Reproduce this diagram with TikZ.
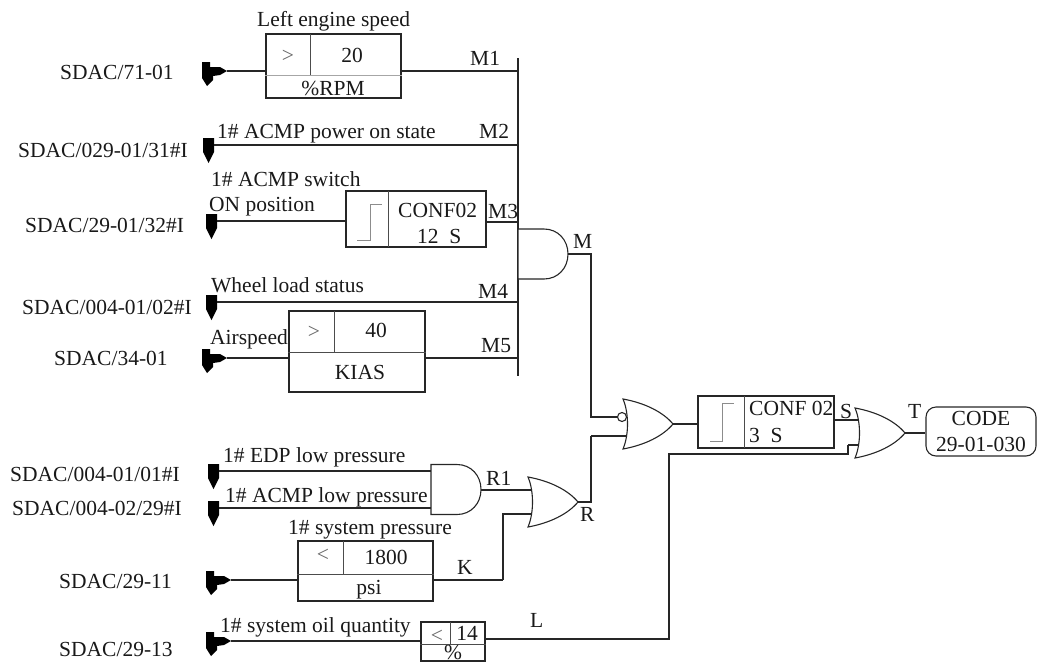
\documentclass[tikz,border=0pt]{standalone}
\usepackage{fontspec}
\setmainfont{Liberation Serif}
\usetikzlibrary{fit}
\tikzset{
  x=1pt,y=-1pt,
  wire/.style={draw=black!85,line width=1.1pt},
  boxn/.style={draw=black!85,line width=1.1pt,inner sep=0pt,rectangle},
  div/.style={draw=black!70,line width=0.9pt},
  stepsym/.style={draw=black!45,line width=1pt},
  lab/.style={anchor=base west,inner sep=0pt,font=\fontsize{21.5}{21.5}\selectfont,text=black!90},
  cen/.style={anchor=base,inner sep=0pt,font=\fontsize{21.5}{21.5}\selectfont,text=black!90},
  gatesty/.style={draw=black!85,line width=1.1pt,fill=white},
  senA/.pic={
    \fill[black] (0,0)--(8,0)--(8,5)--(18,5)--(25,9)--(18,13)--(11,14)--(11,18)--(5,24)--(0,16)--cycle;
    \coordinate (-tip) at (25,9);},
  senB/.pic={
    \fill[black] (0,0)--(11,0)--(11,14)--(5.5,25)--(0,14)--cycle;
    \coordinate (-tip) at (11,7);},
  orgate/.pic={
    \path[gatesty] (0,0) .. controls (22,4) and (40,13) .. (50,25) .. controls (40,37) and (22,46) .. (0,50) .. controls (6,36) and (6,14) .. (0,0) -- cycle;
    \coordinate (-tip) at (50,25);},
  andgate/.pic={
    \path[gatesty] (0,0) -- (26,0) .. controls (40,0) and (50,11) .. (50,25) .. controls (50,39) and (40,50) .. (26,50) -- (0,50) -- cycle;
    \coordinate (-west) at (0,25);
    \coordinate (-tip) at (50,25);},
}
\begin{document}
\begin{tikzpicture}
\useasboundingbox (0,0) rectangle (1044,662);
% bus
\coordinate (busT) at (518,58);
\coordinate (busB) at (518,376);
\draw[wire] (busT)--(busB);
% sensors
\pic (s1) at (202,62) {senA};
\pic (s2) at (203,138) {senB};
\pic (s3) at (206,214) {senB};
\pic (s4) at (206,295) {senB};
\pic (s5) at (202,349) {senA};
\pic (s6) at (208,464) {senB};
\pic (s7) at (208,501) {senB};
\pic (s8) at (206,571) {senA};
\pic (s9) at (206,632) {senA};
% boxes
\node[boxn,fit={(266,34)(401,98)}] (b1) {};
\draw[div,draw=black!35] (b1.west|-0,75)--(b1.east|-0,75);
\draw[div] (310,34)--(310,75);
\node[boxn,fit={(346,191)(486,247)}] (b3) {};
\draw[div] (388,191)--(388,247);
\draw[stepsym] (357,240)--(370,240)--(370,204)--(382,204);
\node[boxn,fit={(289,311)(425,392)}] (b5) {};
\draw[div] (b5.west|-0,352)--(b5.east|-0,352);
\draw[div] (334,311)--(334,352);
\node[boxn,fit={(298,541)(433,601)}] (b8) {};
\draw[div] (b8.west|-0,574)--(b8.east|-0,574);
\draw[div] (343,541)--(343,574);
\node[boxn,fit={(421,622)(485,661)}] (b9) {};
\draw[div] (b9.west|-0,644)--(b9.east|-0,644);
\draw[div] (450,622)--(450,644);
\node[boxn,fit={(698,396)(834,448)}] (cf) {};
\draw[div] (744,396)--(744,448);
\draw[stepsym] (710,441)--(722,441)--(722,403)--(734,403);
\node[boxn,rounded corners=10pt,fit={(926,407)(1036,456)}] (code) {};
% junction coordinates
\coordinate (jm) at (591,254);
\coordinate (jr) at (591,502);
\coordinate (jn2) at (591,436);
\coordinate (jk) at (503,580);
\coordinate (jk2) at (503,514);
\coordinate (jl) at (669,639);
\coordinate (jl2) at (669,454);
\coordinate (jl3) at (848,454);
\coordinate (jl4) at (848,445);
\coordinate (bub) at (622,417);
% connectors into boxes and the bus
\draw[wire] (s1-tip)--(s1-tip-|b1.west);
\draw[wire] (s1-tip-|b1.east)--(s1-tip-|busT);
\draw[wire] (s2-tip)--(s2-tip-|busT);
\draw[wire] (s3-tip)--(s3-tip-|b3.west);
\draw[wire] (b3.east|-0,222)--(busT|-0,222);
\draw[wire] (s4-tip)--(s4-tip-|busT);
\draw[wire] (s5-tip)--(s5-tip-|b5.west);
\draw[wire] (s5-tip-|b5.east)--(s5-tip-|busT);
\draw[wire] (s8-tip)--(s8-tip-|b8.west);
\draw[wire] (s9-tip)--(s9-tip-|b9.west);
\draw[wire] (s6-tip)--(s6-tip-|450,0);
\draw[wire] (s7-tip)--(s7-tip-|450,0);
% connectors into gates (drawn first, gates cover their ends)
\draw[wire] (jn2)--(640,436);
\draw[wire] (jk)--(jk2)--(540,514);
\draw[wire] (470,490)--(540,490);
\draw[wire] (jl4)--(870,445);
\draw[wire] (cf.east|-0,420)--(870,420);
% gates
\pic (gm) at (518,229) {andgate};
\pic (gr1) at (431,464.5) {andgate};
\pic (gr) at (528,477) {orgate};
\pic (gn) at (623,399) {orgate};
\pic (gt) at (855,408) {orgate};
% connectors out of gates
\draw[wire] (gm-tip)--(jm)--(jm|-bub)--(617.5,417);
\draw[wire,fill=white] (bub) circle[radius=4.5];
\draw[wire] (gr-tip)--(jr)--(jn2);
\draw[wire] (s8-tip-|b8.east)--(jk);
\draw[wire] (gn-tip)--(gn-tip-|cf.west);
\draw[wire] (b9.east|-jl)--(jl)--(jl2)--(jl3)--(jl4);
\draw[wire] (gt-tip)--(gt-tip-|code.west);
% texts
\node[lab] (t1) at (60,79) {SDAC/71-01};
\node[lab] (t2) at (18,157) {SDAC/029-01/31\#I};
\node[lab] (t3) at (25,232) {SDAC/29-01/32\#I};
\node[lab] (t4) at (22,314) {SDAC/004-01/02\#I};
\node[lab] (t5) at (54,365) {SDAC/34-01};
\node[lab] (t6) at (10,481) {SDAC/004-01/01\#I};
\node[lab] (t7) at (12,515) {SDAC/004-02/29\#I};
\node[lab] (t8) at (59,588) {SDAC/29-11};
\node[lab] (t9) at (59,656) {SDAC/29-13};
\node[lab] (a1) at (257,26) {Left engine speed};
\node[cen,text=black!60] (a2) at (288,62) {>};
\node[cen] (a3) at (352,62) {20};
\node[cen] (a4) at (333,95) {\%RPM};
\node[lab] (a5) at (470,65) {M1};
\node[lab] (a6) at (217,138) {1\# ACMP power on state};
\node[lab] (a7) at (479,138) {M2};
\node[lab] (a8) at (211,186) {1\# ACMP switch};
\node[lab] (a9) at (209,211) {ON position};
\node[lab] (a10) at (398,217) {CONF02};
\node[lab] (a11) at (417,243) {12~~S};
\node[lab] (a12) at (488,218) {M3};
\node[lab] (a13) at (573,248) {M};
\node[lab] (a14) at (211,292) {Wheel load status};
\node[lab] (a15) at (478,298) {M4};
\node[lab] (a16) at (210,344) {Airspeed};
\node[cen,text=black!60] (a17) at (314,338) {>};
\node[cen] (a18) at (376,337) {40};
\node[lab] (a19) at (481,352) {M5};
\node[cen] (a20) at (360,379) {KIAS};
\node[lab] (a21) at (223,462) {1\# EDP low pressure};
\node[lab] (a22) at (225,502) {1\# ACMP low pressure};
\node[lab] (a23) at (486,485) {R1};
\node[lab] (a24) at (580,521) {R};
\node[lab] (a25) at (288,534) {1\# system pressure};
\node[cen,text=black!60] (a26) at (323,561) {<};
\node[cen] (a27) at (386,564) {1800};
\node[cen] (a28) at (369,594) {psi};
\node[lab] (a29) at (457,574) {K};
\node[lab] (a30) at (220,632) {1\# system oil quantity};
\node[cen,text=black!60] (a31) at (437,642) {<};
\node[cen] (a32) at (467,640) {14};
\node[cen] (a33) at (453,659) {\%};
\node[lab] (a34) at (530,627) {L};
\node[lab] (a35) at (840,418) {S};
\node[lab] (a36) at (908,418) {T};
\node[lab] (a37) at (749,415) {CONF 02};
\node[lab] (a38) at (749,442) {3~~S};
\node[cen] (a39) at (981,425) {CODE};
\node[cen] (a40) at (981,451) {29-01-030};
\end{tikzpicture}
\end{document}
